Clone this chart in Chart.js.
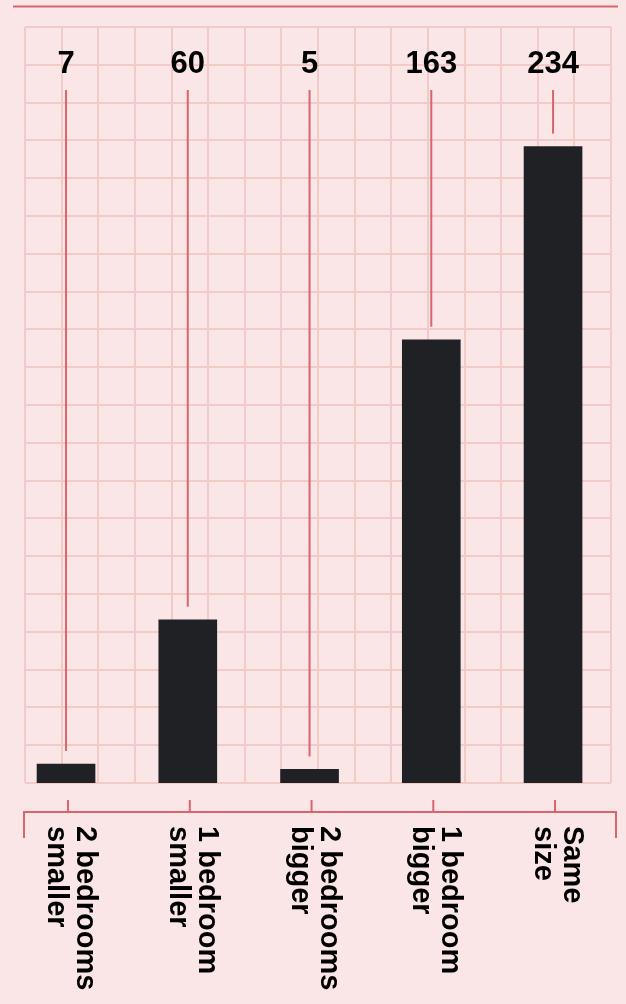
<!DOCTYPE html>
<html>
<head>
<meta charset="utf-8">
<script src="https://cdn.jsdelivr.net/npm/chart.js@4.4.1/dist/chart.umd.min.js"></script>
<style>
  html, body { margin: 0; padding: 0; background: #fae6e6; }
  #wrap { width: 626px; height: 1004px; position: relative; }
</style>
</head>
<body>
<div id="wrap"><canvas id="chart"></canvas></div>
<script>
// categorias e valores
const categorias = [
    ['2 bedrooms', 'smaller'],
    ['1 bedroom', 'smaller'],
    ['2 bedrooms', 'bigger'],
    ['1 bedroom', 'bigger'],
    ['Same', 'size']
];
const contagens = [7, 60, 5, 163, 234];

const vermelho = '#d9646b';
const fonte = '"Liberation Sans", Arial, Helvetica, sans-serif';

// desenha linha de topo, eixo em colchete, rótulos e linhas guia
const anotacoes = {
    id: 'anotacoes',
    afterDatasetsDraw(chart) {
        const ctx = chart.ctx;
        const x = chart.scales.x;
        const y = chart.scales.y;
        ctx.save();
        ctx.strokeStyle = vermelho;
        ctx.lineWidth = 2;

        // linha do topo
        ctx.beginPath();
        ctx.moveTo(13, 6.5);
        ctx.lineTo(618, 6.5);
        ctx.stroke();

        // eixo em colchete
        ctx.beginPath();
        ctx.moveTo(24, 838);
        ctx.lineTo(24, 812);
        ctx.lineTo(616, 812);
        ctx.lineTo(616, 838);
        ctx.stroke();

        contagens.forEach((v, i) => {
            const px = x.getPixelForValue(i);
            const topo = y.getPixelForValue(v);

            // marca do eixo
            ctx.strokeStyle = vermelho;
            ctx.beginPath();
            ctx.moveTo(px + 2, 800);
            ctx.lineTo(px + 2, 812);
            ctx.stroke();

            // linha guia
            ctx.beginPath();
            ctx.moveTo(px, 90);
            ctx.lineTo(px, topo - 13);
            ctx.stroke();

            // valor
            ctx.fillStyle = '#000';
            ctx.font = 'bold 31px ' + fonte;
            ctx.textAlign = 'center';
            ctx.textBaseline = 'alphabetic';
            ctx.fillText(String(v), px, 73);

            // rótulo girado
            ctx.save();
            ctx.translate(px, 826);
            ctx.rotate(Math.PI / 2);
            ctx.font = 'bold 29px ' + fonte;
            ctx.textAlign = 'left';
            ctx.fillText(categorias[i][0], 0, -11);
            ctx.fillText(categorias[i][1], 0, 18);
            ctx.restore();
        });
        ctx.restore();
    }
};

const ctx = document.getElementById('chart').getContext('2d');

new Chart(ctx, {
    type: 'bar',
    data: {
        datasets: [{
            data: contagens.map((v, i) => ({ x: i, y: v })),
            backgroundColor: '#202124',
            barThickness: 58,
            xAxisID: 'x',
            yAxisID: 'y'
        }]
    },
    options: {
        responsive: true,
        maintainAspectRatio: false,
        animation: false,
        layout: { padding: { left: 25, right: 15, top: 27, bottom: 221 } },
        plugins: {
            legend: { display: false },
            tooltip: { enabled: false }
        },
        scales: {
            x: { type: 'linear', display: false, offset: false, min: -0.337, max: 4.476 },
            y: { type: 'linear', display: false, min: 0, max: 278 },
            xg: {
                type: 'linear', position: 'bottom', min: 0, max: 15,
                ticks: { display: false, stepSize: 1 },
                grid: { color: '#f2cbc8', lineWidth: 2, drawTicks: false },
                border: { display: false }
            },
            yg: {
                type: 'linear', position: 'left', min: 0, max: 20,
                ticks: { display: false, stepSize: 1 },
                grid: { color: '#f2cbc8', lineWidth: 2, drawTicks: false },
                border: { display: false }
            }
        }
    },
    plugins: [anotacoes]
});
</script>
</body>
</html>
